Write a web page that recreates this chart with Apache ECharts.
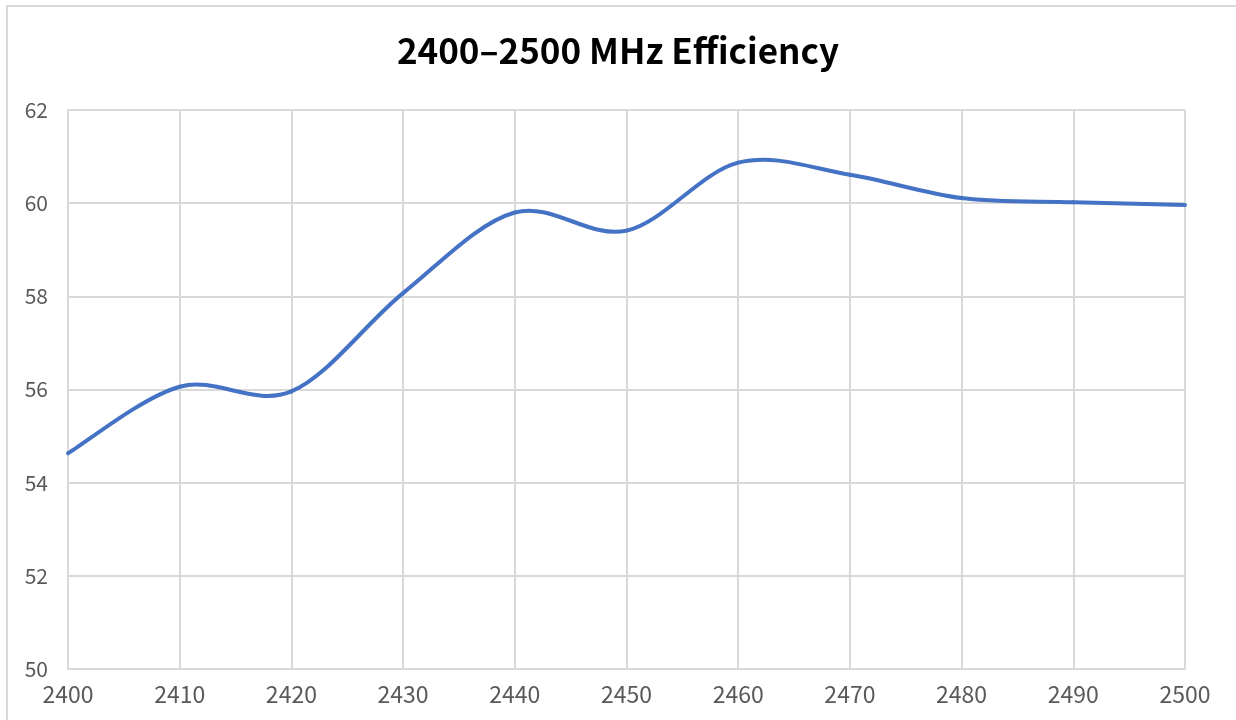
<!DOCTYPE html>
<html>
<head>
<meta charset="utf-8">
<script src="https://cdn.jsdelivr.net/npm/echarts@6/dist/echarts.min.js"></script>
<style>
  html, body { margin: 0; padding: 0; background: #fff; }
  #chart { width: 1236px; height: 720px; }
</style>
</head>
<body>
<div id="chart"></div>
<script>
  // frequency (MHz) and efficiency (%)
  var freqs = [2400, 2410, 2420, 2430, 2440, 2450, 2460, 2470, 2480, 2490, 2500];
  var efficiency = [54.63, 56.06, 55.96, 58.07, 59.80, 59.41, 60.87, 60.61, 60.11, 60.02, 59.96];

  // the built-in smoothing clamps control points, so draw an Excel-like
  // (Catmull-Rom) curve segment by segment from the axis coordinates
  function renderSegment(params, api) {
    var i = params.dataIndex;
    var n = freqs.length;
    if (i >= n - 1) return null;
    var pt = function (k) {
      k = Math.max(0, Math.min(n - 1, k));
      return api.coord([freqs[k], efficiency[k]]);
    };
    var p0 = pt(i - 1), p1 = pt(i), p2 = pt(i + 1), p3 = pt(i + 2);
    return {
      type: 'bezierCurve',
      shape: {
        x1: p1[0], y1: p1[1],
        x2: p2[0], y2: p2[1],
        cpx1: p1[0] + (p2[0] - p0[0]) / 6,
        cpy1: p1[1] + (p2[1] - p0[1]) / 6,
        cpx2: p2[0] - (p3[0] - p1[0]) / 6,
        cpy2: p2[1] - (p3[1] - p1[1]) / 6
      },
      style: { fill: null, stroke: '#4472c4', lineWidth: 4, lineCap: 'round' }
    };
  }

  var chart = echarts.init(document.getElementById('chart'));
  var option = {
    animation: false,
    backgroundColor: '#fff',
    title: {
      text: '2400\u20132500 MHz Efficiency',
      left: 'center',
      top: 28,
      textStyle: {
        fontFamily: 'Noto Sans CJK SC',
        fontWeight: 'bold',
        fontSize: 35,
        color: '#000'
      }
    },
    graphic: [{
      type: 'rect',
      shape: { x: 7, y: 6, width: 1300, height: 800 },
      style: { fill: 'none', stroke: '#d9d9d9', lineWidth: 2 },
      silent: true
    }],
    grid: { left: 68, right: 51, top: 110, bottom: 51 },
    xAxis: {
      type: 'value',
      min: 2400,
      max: 2500,
      interval: 10,
      axisLine: { show: true, lineStyle: { color: '#d9d9d9', width: 2 } },
      axisTick: { show: false },
      splitLine: { show: true, lineStyle: { color: '#d9d9d9', width: 2 } },
      axisLabel: {
        margin: 14,
        color: '#595959',
        fontFamily: 'Noto Sans CJK SC',
        fontSize: 23,
        formatter: function (v) { return String(v); }
      }
    },
    yAxis: {
      type: 'value',
      min: 50,
      max: 62,
      interval: 2,
      axisLine: { show: true, lineStyle: { color: '#d9d9d9', width: 2 } },
      axisTick: { show: false },
      splitLine: { show: true, lineStyle: { color: '#d9d9d9', width: 2 } },
      axisLabel: {
        margin: 20,
        color: '#595959',
        fontFamily: 'Noto Sans CJK SC',
        fontSize: 21
      }
    },
    series: [{
      type: 'custom',
      renderItem: renderSegment,
      encode: { x: 0, y: 1 },
      clip: false,
      data: freqs.map(function (f, i) { return [f, efficiency[i]]; })
    }]
  };
  chart.setOption(option);
</script>
</body>
</html>
